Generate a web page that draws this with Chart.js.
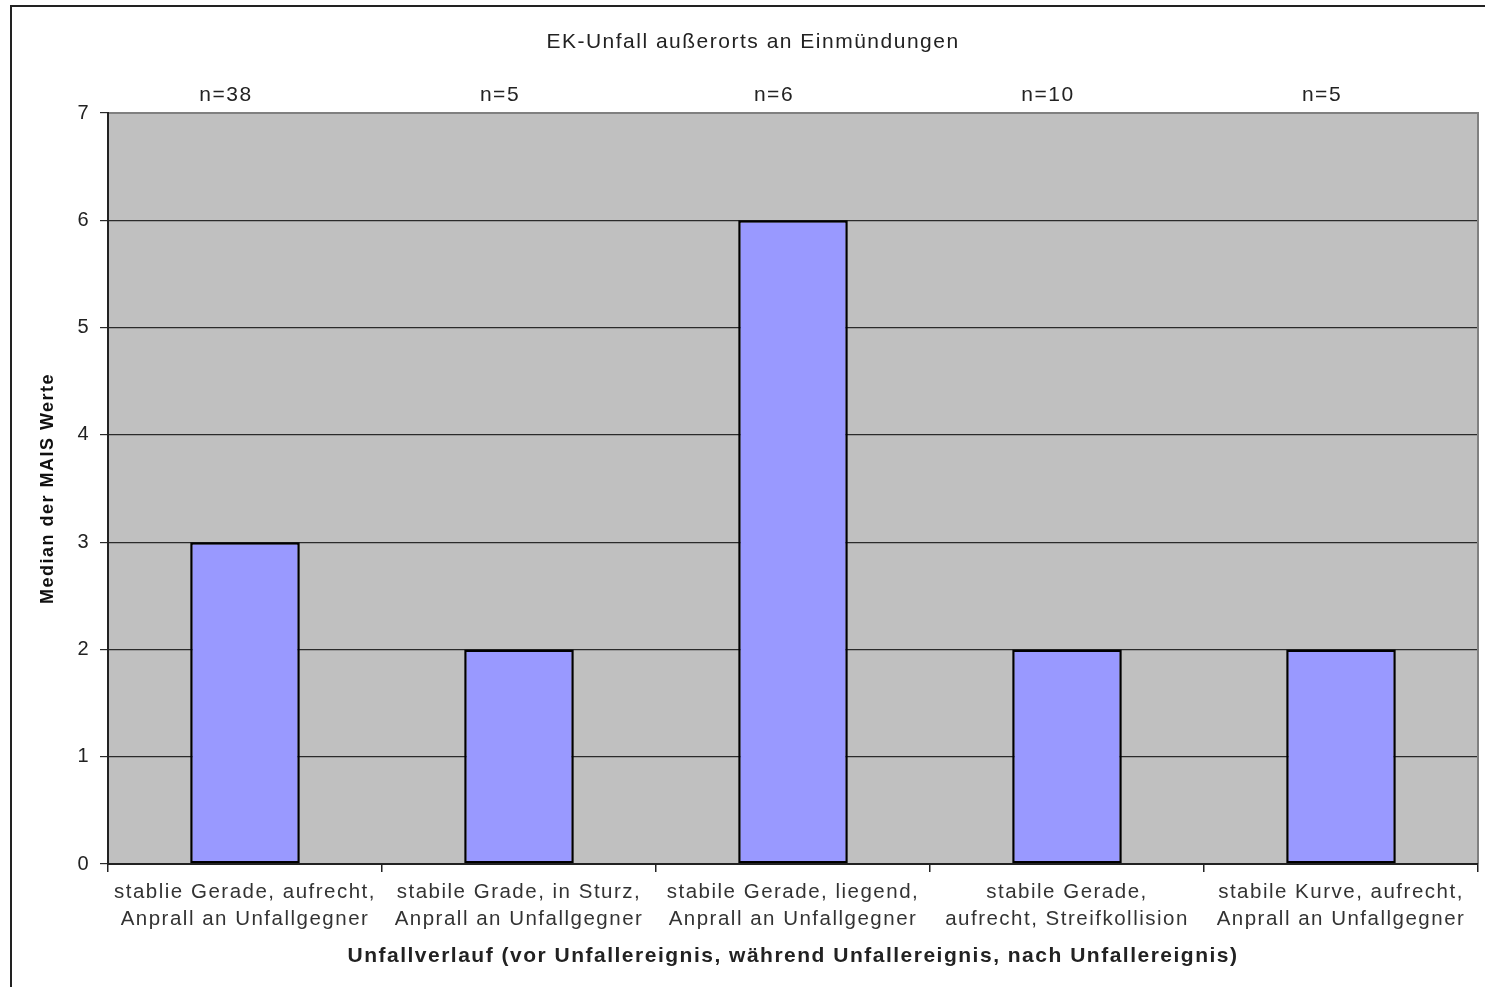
<!DOCTYPE html>
<html lang="de">
<head>
<meta charset="utf-8">
<title>EK-Unfall außerorts an Einmündungen</title>
<script src="https://cdn.jsdelivr.net/npm/chart.js@4/dist/chart.umd.min.js"></script>
<style>
  html, body { margin: 0; padding: 0; background: #fff; overflow: hidden; }
  #frame {
    position: absolute; left: 10px; top: 5px;
    width: 1500px; height: 1000px;
    border-left: 2px solid #222; border-top: 2px solid #222;
  }
  #wrap { position: absolute; left: 0; top: 0; width: 1506px; height: 987px; }
</style>
</head>
<body>
<div id="frame"></div>
<div id="wrap"><canvas id="chart"></canvas></div>
<script>
// Unfallverläufe (Kategorien der x-Achse), je zweizeilig
const categories = [
  ['stablie Gerade, aufrecht,', 'Anprall an Unfallgegner'],
  ['stabile Grade, in Sturz,', 'Anprall an Unfallgegner'],
  ['stabile Gerade, liegend,', 'Anprall an Unfallgegner'],
  ['stabile Gerade,', 'aufrecht, Streifkollision'],
  ['stabile Kurve, aufrecht,', 'Anprall an Unfallgegner']
];
// Fallzahlen je Kategorie
const caseCounts = ['n=38', 'n=5', 'n=6', 'n=10', 'n=5'];
// Median der MAIS-Werte je Kategorie
const medianMais = [3, 2, 6, 2, 2];
// Skala der y-Achse
const yTicks = [0, 1, 2, 3, 4, 5, 6, 7];

const FONT = "'Liberation Sans', Arial, sans-serif";
const TEXT = '#222';
const SPACING = '1.5px';

// etwas gesperrte Schrift für alle Beschriftungen
const wideText = {
  id: 'wideText',
  beforeUpdate(chart) { chart.ctx.letterSpacing = SPACING; },
  beforeDraw(chart) { chart.ctx.letterSpacing = SPACING; }
};

// grauer Hintergrund und Rahmen der Zeichenfläche
const plotFrame = {
  id: 'plotFrame',
  beforeDraw(chart) {
    const a = chart.chartArea, ctx = chart.ctx;
    ctx.save();
    ctx.fillStyle = '#c0c0c0';
    ctx.fillRect(a.left, a.top, a.right - a.left, a.bottom - a.top);
    ctx.restore();
  },
  afterDraw(chart) {
    const a = chart.chartArea, ctx = chart.ctx;
    ctx.save();
    ctx.strokeStyle = '#808080';
    ctx.lineWidth = 2;
    ctx.beginPath();
    ctx.moveTo(a.left, a.top);
    ctx.lineTo(a.right, a.top);
    ctx.lineTo(a.right, a.bottom);
    ctx.stroke();
    ctx.strokeStyle = '#222';
    ctx.beginPath();
    ctx.moveTo(a.left, a.top - 1);
    ctx.lineTo(a.left, a.bottom);
    ctx.lineTo(a.right, a.bottom);
    ctx.stroke();
    ctx.restore();
  }
};

new Chart(document.getElementById('chart'), {
  type: 'bar',
  data: {
    labels: categories,
    datasets: [{
      label: 'Median der MAIS Werte',
      data: medianMais,
      backgroundColor: '#9999ff',
      borderColor: '#000',
      borderWidth: 2.5,
      borderSkipped: false,
      categoryPercentage: 1,
      barPercentage: 0.4
    }]
  },
  options: {
    responsive: true,
    maintainAspectRatio: false,
    animation: false,
    layout: { padding: { left: 28, right: 28, top: 0, bottom: 18 } },
    plugins: {
      legend: { display: false },
      tooltip: { enabled: false },
      title: {
        display: true,
        text: 'EK-Unfall außerorts an Einmündungen',
        color: TEXT,
        font: { family: FONT, size: 21, weight: 'normal', lineHeight: 1.2 },
        padding: { top: 30, bottom: 0 }
      }
    },
    scales: {
      x: {
        position: 'bottom',
        offset: true,
        grid: { display: true, offset: true, drawOnChartArea: false, drawTicks: true,
                tickLength: 8, color: '#222', lineWidth: 1.5 },
        border: { display: false },
        ticks: { color: '#333', padding: 7, maxRotation: 0, autoSkip: false,
                 font: { family: FONT, size: 20.5, lineHeight: 1.317 } },
        title: {
          display: true,
          text: 'Unfallverlauf (vor Unfallereignis, während Unfallereignis, nach Unfallereignis)',
          color: TEXT,
          font: { family: FONT, size: 21, weight: 'bold', lineHeight: 1.2 },
          padding: { top: 10, bottom: 0 }
        },
        afterFit(scale) { scale.height = 105; }
      },
      xTop: {
        type: 'category',
        position: 'top',
        labels: caseCounts,
        offset: true,
        grid: { display: false, drawTicks: false },
        border: { display: false },
        ticks: { color: TEXT, padding: 5.4, labelOffset: -19, autoSkip: false, maxRotation: 0,
                 font: { family: FONT, size: 21, lineHeight: 1.2 } },
        afterFit(scale) { scale.height = 113 - 55.2; }
      },
      y: {
        min: 0,
        max: 7,
        afterBuildTicks(scale) { scale.ticks = yTicks.map(v => ({ value: v })); },
        grid: { color: '#2a2a2a', lineWidth: 1.2, tickLength: 8, drawTicks: true },
        border: { display: false },
        ticks: { color: TEXT, padding: 10, font: { family: FONT, size: 20 } },
        title: {
          display: true,
          text: 'Median der MAIS Werte',
          color: '#111',
          font: { family: FONT, size: 18, weight: 'bold', lineHeight: 1.2 },
          padding: { top: 9, bottom: 0 }
        },
        afterFit(scale) { scale.width = 80; }
      }
    }
  },
  plugins: [wideText, plotFrame]
});
</script>
</body>
</html>
